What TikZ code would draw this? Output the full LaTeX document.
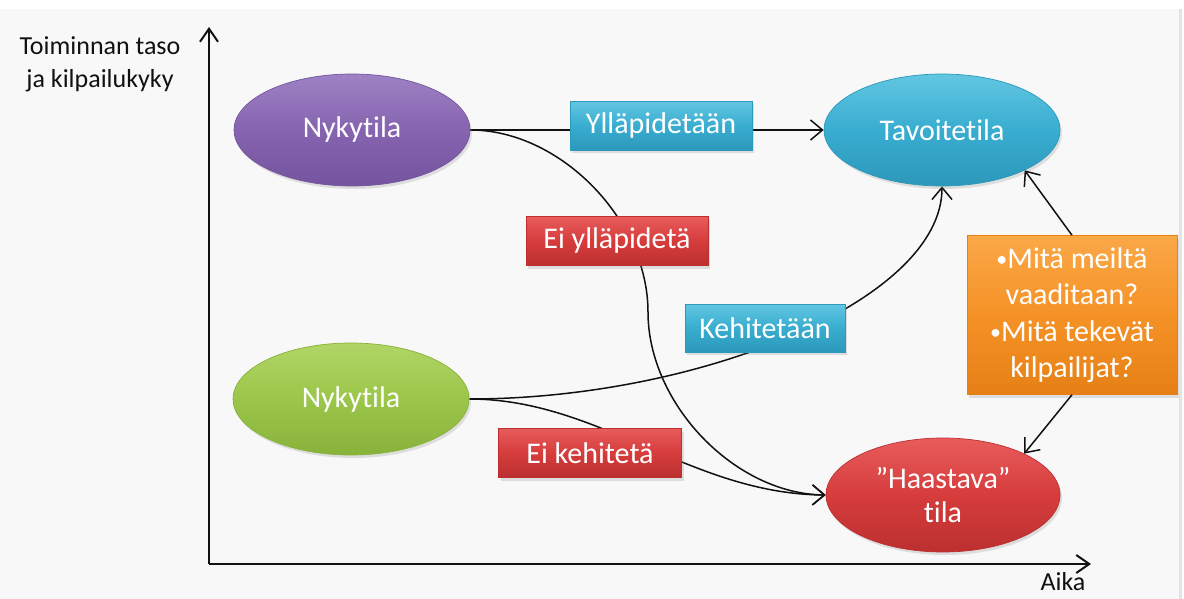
\documentclass[tikz,border=0pt]{standalone}
\usepackage{fontspec}
\setmainfont{Carlito}[Ligatures=NoCommon]
\usetikzlibrary{shapes.geometric,arrows.meta,shadows}

\definecolor{pageback}{HTML}{F8F8F8}
\definecolor{pageedge}{HTML}{E4E4E4}
\definecolor{axisink}{HTML}{111111}
\definecolor{purpleTop}{HTML}{9E82C4}
\definecolor{purpleMid}{HTML}{8664B0}
\definecolor{purpleBot}{HTML}{74549E}
\definecolor{aquaTop}{HTML}{62C6E2}
\definecolor{aquaMid}{HTML}{38ADD0}
\definecolor{aquaBot}{HTML}{2C98BA}
\definecolor{greenTop}{HTML}{B0D566}
\definecolor{greenMid}{HTML}{9CC64A}
\definecolor{greenBot}{HTML}{88B23A}
\definecolor{redTop}{HTML}{E85C5C}
\definecolor{redMid}{HTML}{D63C3C}
\definecolor{redBot}{HTML}{BC3030}
\definecolor{orangeTop}{HTML}{FAA848}
\definecolor{orangeMid}{HTML}{F59226}
\definecolor{orangeBot}{HTML}{E68016}

\pgfdeclarelayer{bg}
\pgfdeclarelayer{lines}
\pgfsetlayers{bg,lines,main}

% small bullet for the question list
\newcommand{\qbullet}{{\fontsize{22}{22}\selectfont\raisebox{1.5pt}{•}}}

\begin{document}
\begin{tikzpicture}[x=1pt,y=-1pt,
  every node/.style={font=\fontsize{30}{36}\selectfont},
  shade3/.style n args={3}{top color=#1, bottom color=#3, middle color=#2},
  soft/.style={drop shadow={shadow xshift=2pt,shadow yshift=-3pt,opacity=0.22}},
  state/.style={ellipse, inner sep=0pt, minimum width=236pt, minimum height=112pt,
    text=white, align=center, soft, line width=0.7pt},
  tag/.style={rectangle, inner sep=0pt, minimum height=49pt, text=white,
    align=center, soft, line width=0.5pt},
  conn/.style={line width=1.5pt, draw=axisink},
  tip/.style={conn, -{Straight Barb[length=12pt,width=20pt,line width=1.5pt]}},
  axis/.style={line width=2.5pt, draw=axisink,
    -{Straight Barb[length=13pt,width=18pt,line width=2pt]}},
  axislabel/.style={font=\fontsize{26}{33}\selectfont, text=axisink, align=center}
]

% page
\begin{pgfonlayer}{bg}
  \fill[white] (0,0) rectangle (1184,599);
  \fill[pageback] (0,9) rectangle (1179,599);
  \fill[pageedge] (1179,9) rectangle (1182,599);
\end{pgfonlayer}
\useasboundingbox (0,0) rectangle (1184,599);

% axes
\coordinate (origin) at (209,564);
\coordinate (yend) at (209,27);
\coordinate (xend) at (1091,564);
\draw[axis] (origin) -- (yend);
\draw[axis] (origin) -- (xend);
\node[axislabel] (ylab) at (100,64) {Toiminnan taso\\ja kilpailukyky};
\node[axislabel] (xlab) at (1063,582) {Aika};

% states
\node[state, shade3={purpleTop}{purpleMid}{purpleBot}, draw=purpleBot] (pN) at (352,130) {Nykytila};
\node[state, shade3={aquaTop}{aquaMid}{aquaBot}, draw=aquaBot] (tT) at (942,130) {Tavoitetila};
\node[state, shade3={greenTop}{greenMid}{greenBot}, draw=greenBot] (gN) at (351,399) {Nykytila};
\node[state, shade3={redTop}{redMid}{redBot}, draw=redBot, minimum width=234pt, minimum height=114pt,
  font=\fontsize{30}{34}\selectfont] (rH) at (943,495) {”Haastava”\\tila};

% questions box
\node[tag, shade3={orangeTop}{orangeMid}{orangeBot}, draw=orangeBot,
  minimum width=210pt, minimum height=159pt,
  font=\fontsize{30}{36.5}\selectfont] (bO) at (1072,315)
  {\qbullet Mitä meiltä\\vaaditaan?\\\qbullet Mitä tekevät\\kilpailijat?};

% connectors
\begin{pgfonlayer}{lines}
  \draw[tip] (pN.east) -- (tT.west);
  \draw[tip] (pN.east) .. controls +(90,0) and (648,220) .. (648,312)
                        .. controls (648,404) and (735,494) .. (rH.west);
  \draw[tip] (gN.east) .. controls (700,399) and (942,300) .. (tT.south);
  \draw[tip] (gN.east) .. controls (600,399) and (690,494) .. (rH.west);
\end{pgfonlayer}
\draw[tip] (bO.north) -- (tT.-26);
\draw[tip] (bO.south) -- (rH.27);

% path labels
\node[tag, shade3={aquaTop}{aquaMid}{aquaBot}, draw=aquaBot, minimum width=182pt] (bY) at (661,126) {Ylläpidetään};
\node[tag, shade3={redTop}{redMid}{redBot}, draw=redBot, minimum width=182pt] (bE) at (617,241) {Ei ylläpidetä};
\node[tag, shade3={aquaTop}{aquaMid}{aquaBot}, draw=aquaBot, minimum width=160pt, minimum height=48pt] (bK) at (765,328) {Kehitetään};
\node[tag, shade3={redTop}{redMid}{redBot}, draw=redBot, minimum width=183pt] (bEk) at (590,453) {Ei kehitetä};

\end{tikzpicture}
\end{document}
